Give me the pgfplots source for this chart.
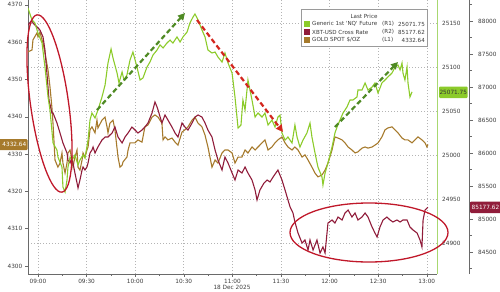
\documentclass[border=0pt]{standalone}
\usepackage{pgfplots}
\pgfplotsset{compat=1.18}
\usepackage{fontspec}
\setmainfont{DejaVu Sans}
\usetikzlibrary{arrows.meta}
\definecolor{cGold}{HTML}{A67A2C}
\definecolor{cRed}{HTML}{901C3A}
\definecolor{cGreen}{HTML}{8CCB2A}
\definecolor{cGreenAx}{HTML}{A8D870}
\definecolor{cGrid}{HTML}{B4B4B4}
\definecolor{cAxis}{HTML}{6A6A6A}
\definecolor{cTxt}{HTML}{3C3C3C}
\definecolor{cEll}{HTML}{C0182A}
\definecolor{cArrG}{HTML}{4F8A24}
\definecolor{cArrR}{HTML}{D3261E}
\definecolor{cLeg}{HTML}{9A9A9A}
\newcommand{\tf}{\fontsize{5.8}{6.5}\selectfont}
\newcommand{\lf}{\fontsize{5.6}{6.3}\selectfont}
\begin{document}
\begin{tikzpicture}[x=1bp,y=1bp]
\useasboundingbox (0,0) rectangle (500,291);
\pgfplotsset{base/.style={scale only axis, width=409bp, height=274bp, at={(28bp,17bp)}, anchor=south west, xmin=-6.17, xmax=246.3, clip=true, scaled x ticks=false, scaled y ticks=false}}
% grid + R1 scale
\begin{axis}[base, ymin=24864.8, ymax=25176.1, axis x line=none, axis y line*=right,
  ytick={24900,24950,25000,25050,25100,25150},
  yticklabels={24900,24950,25000,25050,25100,25150},
  ymajorgrids, grid style={cGrid, dash pattern=on 1bp off 2bp, line width=0.6bp},
  major tick length=0pt, y axis line style={cGreenAx, line width=0.6bp},
  yticklabel style={font=\tf, text=cTxt, anchor=west, inner sep=0pt, xshift=5bp}]
\end{axis}
% gold L1 + x axis
\begin{axis}[base, ymin=4297.86, ymax=4371.3, axis x line*=bottom, axis y line*=left,
  xtick={0,30,60,90,120,150,180,210,240},
  xticklabels={09:00,09:30,10:00,10:30,11:00,11:30,12:00,12:30,13:00},
  minor xtick={15,45,75,105,135,165,195,225},
  xmajorgrids, grid style={cGrid, dash pattern=on 1bp off 2bp, line width=0.6bp},
  ytick={4300,4310,4320,4330,4340,4350,4360,4370},
  yticklabels={4300,4310,4320,4330,4340,4350,4360,4370},
  tick align=outside, major tick length=2.5bp, minor tick length=1.5bp,
  tick style={cAxis, line width=0.5bp}, axis line style={cAxis, line width=0.7bp},
  xticklabel style={font=\tf, text=cTxt, anchor=north, inner sep=0pt, yshift=-3bp},
  yticklabel style={font=\tf, text=cTxt, anchor=east, inner sep=0pt, xshift=-3bp}]
\addplot[cGold, line width=1.1bp] coordinates {
(-6.2,4357.4)(-3.7,4357.9)(-3.1,4360.6)(-0.6,4362.5)(0,4361.4)(1.2,4362.7)(2.5,4360.6)(3.1,4359.8)(4.3,4357.1)(6.2,4352.5)(7.4,4348.0)(8.6,4342.5)(9.3,4338.0)(10.5,4328.4)(12.3,4326.5)(13.6,4327.6)(14.8,4330.3)(15.4,4327.6)(16.7,4324.9)(17.9,4327.6)(18.5,4330.3)(19.8,4331.1)(21.0,4328.4)(21.6,4326.5)(22.8,4329.2)(24.1,4331.1)(24.7,4326.5)(25.9,4325.7)(27.2,4328.4)(27.8,4330.3)(29.0,4329.2)(30.2,4331.1)(30.9,4331.9)(32.1,4336.5)(33.3,4337.3)(35.2,4335.7)(36.4,4339.1)(37.0,4337.0)(39.5,4339.1)(41.4,4339.9)(42.6,4337.3)(43.2,4335.7)(44.4,4338.3)(46.3,4339.1)(47.5,4336.5)(49.4,4329.2)(50.6,4326.5)(51.9,4327.0)(52.5,4327.9)(54.9,4329.2)(55.6,4331.1)(56.8,4333.0)(58.6,4333.0)(59.9,4333.0)(61.7,4333.8)(64.2,4333.2)(66.0,4337.3)(67.9,4337.8)(70.4,4339.9)(72.2,4340.5)(74.1,4339.9)(76.5,4338.3)(77.2,4333.8)(78.4,4334.6)(80.2,4333.8)(82.7,4334.3)(84.6,4333.2)(86.4,4332.4)(88.9,4335.9)(90.7,4336.5)(92.6,4337.3)(95.1,4339.1)(96.9,4339.9)(98.8,4338.3)(101.2,4337.3)(103.1,4335.1)(104.9,4331.9)(107.4,4326.5)(109.3,4328.4)(111.1,4327.6)(113.6,4330.3)(115.4,4331.1)(117.3,4331.1)(119.8,4330.3)(121.6,4327.6)(123.5,4329.2)(125.9,4329.2)(127.8,4331.1)(129.6,4330.3)(132.1,4331.9)(134.0,4331.1)(135.8,4331.9)(138.3,4333.0)(140.1,4333.8)(142.0,4331.1)(144.4,4331.9)(146.3,4333.0)(148.1,4333.8)(150.6,4334.6)(152.5,4333.0)(154.3,4331.9)(156.8,4331.1)(158.6,4331.9)(160.5,4331.1)(163.0,4329.2)(164.8,4329.8)(166.7,4328.4)(169.1,4326.5)(171.0,4324.9)(172.8,4323.9)(175.3,4324.4)(177.2,4325.7)(179.0,4327.6)(181.5,4331.1)(183.3,4334.6)(185.2,4334.3)(187.7,4333.8)(189.5,4333.0)(191.4,4331.9)(193.8,4331.1)(195.7,4330.3)(197.5,4330.6)(200.0,4331.6)(201.9,4331.9)(203.7,4331.6)(206.2,4331.9)(208.0,4332.4)(209.9,4333.0)(212.3,4334.6)(214.2,4336.5)(216.0,4337.0)(218.5,4337.3)(220.4,4336.5)(222.2,4335.7)(224.7,4334.3)(226.5,4333.8)(228.4,4333.8)(230.9,4333.0)(232.7,4333.8)(234.6,4334.6)(237.0,4333.8)(238.9,4333.0)(240.1,4331.9)(240.7,4332.6)};
\end{axis}
% red R2
\begin{axis}[base, ymin=84166.7, ymax=88318.2, hide axis]
\addplot[cRed, line width=1.1bp] coordinates {
(-6.2,87939)(-3.7,88015)(-3.1,87970)(-0.6,87909)(1.2,87864)(3.1,87758)(4.3,87561)(5.6,87182)(6.8,86803)(8.6,86606)(9.3,86606)(11.7,86455)(13.6,86303)(15.4,86152)(17.9,86000)(18.5,85894)(19.8,85849)(21.0,85939)(21.6,85849)(22.8,85697)(24.1,85545)(24.7,85470)(25.9,85591)(27.2,85742)(27.8,85788)(29.0,85742)(30.2,85788)(30.9,85849)(32.1,86000)(33.3,86045)(34.0,86091)(35.2,86000)(37.0,86091)(39.5,86197)(41.4,86242)(43.2,86242)(45.7,86303)(47.5,86394)(49.4,86242)(51.9,86152)(53.7,86242)(55.6,86303)(58.0,86394)(59.9,86348)(61.7,86303)(64.2,86348)(66.0,86394)(67.9,86455)(70.4,86606)(72.2,86773)(73.5,86697)(74.1,86652)(76.5,86455)(78.4,86576)(80.2,86500)(82.7,86394)(84.6,86303)(86.4,86242)(88.9,86455)(90.7,86394)(92.6,86348)(95.1,86455)(96.9,86545)(98.8,86576)(101.2,86545)(103.1,86455)(104.9,86348)(107.4,86242)(109.3,86045)(111.1,85894)(113.6,85742)(115.4,85939)(117.3,85849)(119.8,85697)(121.6,85591)(123.5,85742)(125.9,85697)(127.8,85788)(129.6,85697)(132.1,85591)(134.0,85439)(135.2,85288)(137.0,85439)(139.5,85545)(141.4,85591)(143.2,85561)(145.1,85636)(148.1,85742)(150.6,85591)(152.5,85439)(155.6,85182)(157.4,85091)(158.6,84955)(160.5,84788)(163.0,84636)(164.8,84682)(166.7,84530)(167.9,84682)(169.8,84530)(172.2,84682)(174.1,84485)(175.9,84576)(177.2,84485)(178.4,84788)(179.0,84939)(181.5,84985)(183.3,84939)(185.2,85030)(187.7,84985)(189.5,85091)(191.4,85136)(193.8,85030)(195.7,85091)(197.5,84985)(200.0,85030)(201.9,85091)(203.7,85030)(206.2,84879)(208.0,84788)(209.3,84727)(211.1,84879)(213.0,84985)(215.4,85030)(217.3,84985)(219.1,84955)(221.6,84985)(223.5,84955)(225.3,84985)(227.8,84985)(229.6,84879)(231.5,84833)(234.0,84788)(235.8,84682)(237.0,84576)(237.7,84985)(238.9,85136)(240.7,85178)};
\end{axis}
% green R1
\begin{axis}[base, ymin=24864.8, ymax=25176.1, hide axis]
\addplot[cGreen, line width=1.1bp] coordinates {
(-6.2,25167.0)(-3.7,25153.4)(-1.9,25150.0)(0.0,25138.6)(2.5,25127.2)(4.3,25100.0)(6.2,25065.9)(7.4,25051.1)(9.3,25013.6)(11.7,25005.6)(12.3,24997.7)(14.8,24986.3)(15.4,24963.6)(16.7,24957.9)(17.9,24971.5)(18.5,24986.3)(19.8,24997.7)(21.0,24994.3)(22.8,25000.0)(24.7,24988.6)(25.9,24994.3)(27.8,25000.0)(29.0,24996.5)(30.9,25017.0)(32.1,25039.7)(33.3,25047.7)(35.2,25042.0)(37.0,25051.1)(39.5,25065.9)(41.4,25079.5)(43.2,25104.5)(45.1,25120.4)(46.3,25110.2)(48.8,25093.1)(50.0,25081.8)(51.9,25094.3)(53.1,25085.2)(54.9,25090.9)(56.8,25107.9)(58.6,25117.0)(61.1,25100.0)(63.0,25085.2)(64.8,25087.5)(67.3,25100.0)(69.1,25105.6)(71.0,25113.6)(73.5,25119.3)(75.3,25125.0)(77.2,25121.6)(79.6,25127.2)(81.5,25130.6)(83.3,25127.2)(85.8,25134.1)(87.7,25128.4)(89.5,25134.1)(92.0,25139.7)(93.8,25150.0)(95.7,25156.8)(96.9,25160.2)(98.8,25153.4)(101.2,25142.0)(103.1,25134.1)(104.9,25119.3)(107.4,25115.9)(109.3,25117.0)(111.1,25111.3)(113.6,25105.6)(115.4,25115.9)(117.3,25104.5)(119.8,25093.1)(121.6,25065.9)(123.5,25030.6)(125.3,25034.1)(126.5,25062.5)(127.8,25051.1)(129.6,25085.2)(132.1,25062.5)(134.0,25043.1)(135.8,25047.7)(138.3,25043.1)(140.1,25047.7)(142.0,25034.1)(144.4,25039.7)(146.3,25031.8)(148.1,25043.1)(149.4,25045.4)(150.6,25025.0)(152.5,25017.0)(154.3,25020.4)(156.8,25013.6)(158.6,25034.1)(159.9,25020.4)(161.7,25009.0)(163.6,25017.0)(166.0,25025.0)(167.9,25036.3)(169.1,25020.4)(171.0,25002.2)(172.8,24986.3)(175.3,24975.0)(175.9,24965.9)(177.2,24979.5)(179.0,24990.9)(181.5,25009.0)(183.3,25025.0)(184.6,25031.8)(186.4,25039.7)(188.3,25047.7)(190.7,25054.5)(192.6,25062.5)(194.4,25062.5)(196.9,25065.9)(197.5,25073.8)(200.0,25073.8)(201.9,25081.8)(203.7,25073.8)(206.2,25077.2)(208.0,25081.8)(209.9,25070.4)(212.3,25081.8)(214.2,25085.2)(216.0,25088.6)(218.5,25093.1)(220.4,25100.0)(222.2,25102.2)(223.5,25096.6)(224.7,25104.5)(225.3,25093.1)(226.5,25085.2)(227.8,25100.0)(228.4,25081.8)(229.6,25065.9)(230.9,25071.75)};
\end{axis}
% R2 scale
\begin{axis}[at={(468.5bp,17bp)}, anchor=south west, scale only axis, width=1bp, height=274bp,
  xmin=0, xmax=1, ymin=84166.7, ymax=88318.2, axis x line=none, axis y line*=right,
  scaled x ticks=false, scaled y ticks=false,
  ytick={84500,85000,85500,86000,86500,87000,87500,88000},
  yticklabels={84500,85000,85500,86000,86500,87000,87500,88000},
  minor ytick={84250,84750,85250,85750,86250,86750,87250,87750,88250},
  tick align=outside, major tick length=3bp, minor tick length=2bp,
  tick style={cAxis, line width=0.5bp}, axis line style={cAxis, line width=0.6bp},
  yticklabel style={font=\tf, text=cTxt, anchor=west, inner sep=0pt, xshift=5.5bp}]
\end{axis}
% annotations
\draw[cEll, line width=1.3bp, rotate around={8:(49.5,187.5)}] (49.5,187.5) ellipse [x radius=19, y radius=89.5];
\draw[cEll, line width=1.3bp] (369,58.5) ellipse [x radius=79, y radius=29.5];
\draw[cArrG, line width=2.2bp, dash pattern=on 5bp off 3bp, -{Triangle[length=7bp,width=7bp]}] (97,181) -- (185,278);
\draw[cArrR, line width=2.2bp, dash pattern=on 5bp off 3bp, -{Triangle[length=7bp,width=7bp]}] (197,271) -- (283,159);
\draw[cArrG, line width=2.2bp, dash pattern=on 5bp off 3bp, -{Triangle[length=7bp,width=7bp]}] (335,164) -- (398,229);
% value labels
\fill[cGold, rounded corners=1bp] (-3,141) rectangle (27.5,152);
\node[anchor=east, inner sep=0pt, font=\tf, text=white] at (26.5,146.5) {4332.64};
\fill[cGreen, rounded corners=1bp] (439,193) rectangle (467.5,204.5);
\node[anchor=center, inner sep=0pt, font=\tf, text=black!80] at (453.3,198.7) {25071.75};
\fill[cRed, rounded corners=1bp] (470,78) rectangle (502,89.5);
\node[anchor=center, inner sep=0pt, font=\tf, text=white] at (485.5,83.7) {85177.62};
% legend
\draw[cLeg, line width=0.5bp, fill=white] (301,245) rectangle (427,282);
\node[font=\lf, text=cTxt, inner sep=0pt] at (364,275) {Last Price};
\fill[cGreen] (304,264) rectangle (310,270);
\fill[cRed] (304,256) rectangle (310,262);
\fill[cGold] (304,248) rectangle (310,254);
\node[anchor=west, inner sep=0pt, font=\lf, text=cTxt] at (312,267) {Generic 1st \textquotesingle NQ\textquotesingle{} Future};
\node[anchor=west, inner sep=0pt, font=\lf, text=cTxt] at (312,259) {XBT-USD Cross Rate};
\node[anchor=west, inner sep=0pt, font=\lf, text=cTxt] at (312,251) {GOLD SPOT \$/OZ};
\node[anchor=west, inner sep=0pt, font=\lf, text=cTxt] at (382,267) {(R1)};
\node[anchor=west, inner sep=0pt, font=\lf, text=cTxt] at (382,259) {(R2)};
\node[anchor=west, inner sep=0pt, font=\lf, text=cTxt] at (382,251) {(L1)};
\node[anchor=east, inner sep=0pt, font=\lf, text=cTxt] at (425,267) {25071.75};
\node[anchor=east, inner sep=0pt, font=\lf, text=cTxt] at (425,259) {85177.62};
\node[anchor=east, inner sep=0pt, font=\lf, text=cTxt] at (425,251) {4332.64};
\node[font=\tf, text=cTxt, inner sep=0pt] at (232,3.5) {18 Dec 2025};
\end{tikzpicture}
\end{document}
